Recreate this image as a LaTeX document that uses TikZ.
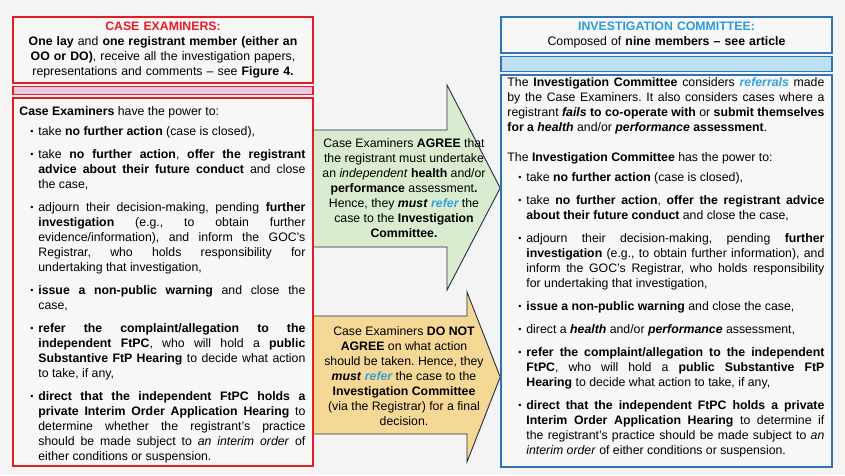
\documentclass[tikz,border=0pt]{standalone}
\usepackage{fontspec}
\setmainfont{Liberation Sans}
\usepackage{enumitem}
\usetikzlibrary{positioning, backgrounds}
\definecolor{caseRed}{RGB}{230,28,36}
\definecolor{icBlue}{RGB}{46,117,182}
\definecolor{icTitle}{RGB}{45,155,215}
\definecolor{referBlue}{RGB}{52,160,220}
\definecolor{bandPink}{RGB}{234,200,226}
\definecolor{bandBlue}{RGB}{190,224,240}
\definecolor{agreeGreen}{RGB}{217,236,207}
\definecolor{disagreeGold}{RGB}{246,216,150}
\definecolor{pageGrey}{RGB}{244,244,244}
\definecolor{panelGrey}{RGB}{247,247,247}
\definecolor{arrowEdge}{RGB}{35,45,65}
\setlist[itemize]{label=\raisebox{0.6pt}{\small\textbullet}, leftmargin=19pt,
  labelsep=5pt, itemsep=8pt, parsep=0pt, topsep=5pt, partopsep=0pt}
\hyphenpenalty=10000
\exhyphenpenalty=10000
\tolerance=9999
\frenchspacing
\newcommand{\fpfont}{\fontsize{12.3pt}{15pt}\selectfont}
\newcommand{\refr}[1]{\textbf{\textit{\color{referBlue}#1}}}
\tikzset{
  fp/box/.style={rectangle, draw=#1, line width=1.6pt, fill=panelGrey,
    inner sep=0pt, align=center, font=\fpfont},
  fp/band/.style={rectangle, draw=#1, line width=1.6pt, inner sep=0pt},
  fp/text/.style={inner sep=0pt, align=justify, font=\fpfont, anchor=north west},
  fp/arr/.style={draw=arrowEdge, line width=0.9pt, line join=miter, fill=#1},
  fp/arrtxt/.style={inner sep=0pt, align=center, font=\fpfont}
}
\begin{document}
\begin{tikzpicture}[x=1pt, y=-1pt, node distance=2pt]
  \useasboundingbox (0,0) rectangle (845,475);
  \node[fp/box=caseRed, minimum width=300pt, minimum height=66pt, text width=296pt] (ceHead) at (163,50)
    {\textcolor{caseRed}{\textbf{CASE EXAMINERS:}}\\
     \textbf{One lay} and \textbf{one registrant member (either an}\\
     \textbf{OO or DO)}, receive all the investigation papers,\\
     representations and comments -- see \textbf{Figure 4.}};
  \node[fp/band=caseRed, fill=bandPink, minimum width=300pt, minimum height=8pt, below=of ceHead] (ceBand) {};
  \node[fp/box=caseRed, minimum width=300pt, minimum height=368pt, below=of ceBand] (ceBody) {};
  \node[fp/text, text width=286pt, below right=9pt and 7pt of ceBody.north west] (ceText)
    {\textbf{Case Examiners} have the power to:
     \begin{itemize}
       \item take \textbf{no further action} (case is closed),
       \item take \textbf{no further action}, \textbf{offer the registrant\linebreak advice about their future conduct} and close\linebreak the case,
       \item adjourn their decision-making, pending \textbf{further\linebreak investigation} (e.g., to obtain further\linebreak evidence/information), and inform the GOC's\linebreak Registrar, who holds responsibility for\linebreak undertaking that investigation,
       \item \textbf{issue a non-public warning} and close the\linebreak case,
       \item \textbf{refer the complaint/allegation to the\linebreak independent FtPC}, who will hold a \textbf{public\linebreak Substantive FtP Hearing} to decide what action\linebreak to take, if any,
       \item \textbf{direct that the independent FtPC holds a\linebreak private Interim Order Application Hearing} to\linebreak determine whether the registrant's practice\linebreak should be made subject to \textit{an interim order} of\linebreak either conditions or suspension.
     \end{itemize}};

  \node[fp/box=icBlue, minimum width=331pt, minimum height=36pt, text width=325pt] (icHead) at (666.5,35)
    {\textcolor{icTitle}{\textbf{INVESTIGATION COMMITTEE:}}\\
     Composed of \textbf{nine members -- see article}};
  \node[fp/band=icBlue, fill=bandBlue, minimum width=331pt, minimum height=15pt, below=of icHead] (icBand) {};
  \node[fp/box=icBlue, minimum width=331pt, minimum height=392pt, below=of icBand] (icBody) {};
  \node[fp/text, text width=317pt, below right=3pt and 7pt of icBody.north west] (icText)
    {The \textbf{Investigation Committee} considers \refr{referrals} made\linebreak by the Case Examiners. It also considers cases where a\linebreak registrant \textbf{\textit{fails} to co-operate with} or \textbf{submit themselves\linebreak for a \textit{health}} and/or \textbf{\textit{performance} assessment}.\par\vspace{15pt}
     The \textbf{Investigation Committee} has the power to:
     \begin{itemize}
       \item take \textbf{no further action} (case is closed),
       \item take \textbf{no further action}, \textbf{offer the registrant advice\linebreak about their future conduct} and close the case,
       \item adjourn their decision-making, pending \textbf{further\linebreak investigation} (e.g., to obtain further information), and\linebreak inform the GOC's Registrar, who holds responsibility\linebreak for undertaking that investigation,
       \item \textbf{issue a non-public warning} and close the case,
       \item direct a \textbf{\textit{health}} and/or \textbf{\textit{performance}} assessment,
       \item \textbf{refer the complaint/allegation to the independent\linebreak FtPC}, who will hold a \textbf{public Substantive FtP\linebreak Hearing} to decide what action to take, if any,
       \item \textbf{direct that the independent FtPC holds a private\linebreak Interim Order Application Hearing} to determine if\linebreak the registrant's practice should be made subject to \textit{an\linebreak interim order} of either conditions or suspension.
     \end{itemize}};

  \node[fp/arrtxt] (agreeTxt) at (404,188)
    {Case Examiners \textbf{AGREE} that\\
     the registrant must undertake\\
     an \textit{independent} \textbf{health} and/or\\
     \textbf{performance} assessment\textbf{.}\\
     Hence, they \textbf{\textit{must}} \refr{refer} the\\
     case to the \textbf{Investigation}\\
     \textbf{Committee.}};
  \node[fp/arrtxt] (disagreeTxt) at (404,376)
    {Case Examiners \textbf{DO NOT}\\
     \textbf{AGREE} on what action\\
     should be taken. Hence, they\\
     \textbf{\textit{must}} \refr{refer} the case to the\\
     \textbf{Investigation Committee}\\
     (via the Registrar) for a final\\
     decision.};

  \begin{scope}[on background layer]
    \fill[pageGrey] (0,0) rectangle (845,475);
    \draw[fp/arr=agreeGreen] (ceBody.east |- 0,130) -- (447,130) -- (447,85)
      -- (icBody.west |- 0,188) -- (447,290) -- (447,247) -- (ceBody.east |- 0,247);
    \draw[fp/arr=disagreeGold] (ceBody.east |- 0,316) -- (467,316) -- (467,292)
      -- (icBody.west |- 0,377) -- (467,462) -- (467,434) -- (ceBody.east |- 0,434);
  \end{scope}
\end{tikzpicture}
\end{document}
